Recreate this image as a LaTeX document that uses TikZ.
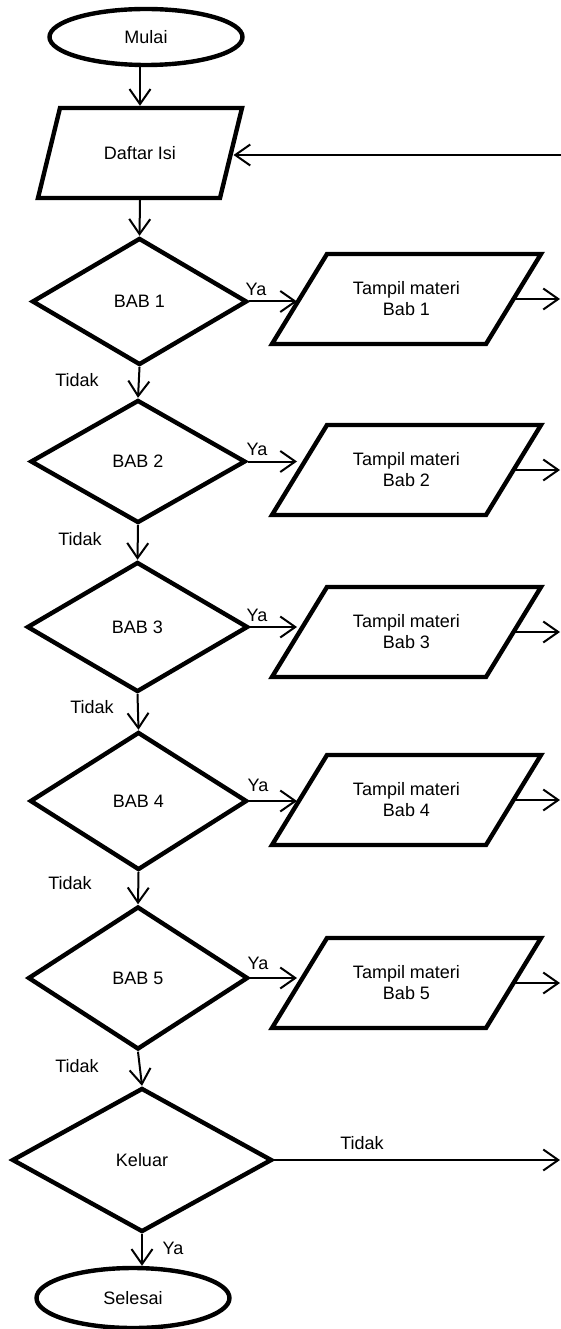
\documentclass[tikz,border=0pt]{standalone}
\usepackage{fontspec}
\setmainfont{Liberation Sans}
\usetikzlibrary{shapes.geometric,arrows.meta}
\newcommand\slantbox[2]{%
  \draw[boxline] ([xshift=-#2]#1.south west) -- ([xshift=#2]#1.north west)
    -- ([xshift=#2]#1.north east) -- ([xshift=-#2]#1.south east) -- cycle;}
\begin{document}
\begin{tikzpicture}[x=1pt,y=-1pt,
  font=\fontsize{18}{21}\selectfont,
  boxline/.style={line width=4.4pt},
  boxed/.style={draw, line width=4.4pt, inner sep=0pt, align=center},
  term/.style={boxed, ellipse, minimum width=193pt, minimum height=56pt},
  iotext/.style={inner sep=0pt, outer sep=0pt, align=center, minimum height=90pt},
  dec/.style={boxed, diamond},
  conn/.style={line width=2pt, -{Straight Barb[length=15pt,width=21pt]}},
  lbl/.style={inner sep=0pt}]
\useasboundingbox (0,0) rectangle (561,1329);

% main column
\node[term] (mulai) at (146,37) {Mulai};
\node[iotext, minimum width=182pt] (daftar) at (140,153) {Daftar Isi};
\slantbox{daftar}{11pt}
\node[dec, minimum width=215pt, minimum height=127pt] (b1) at (139.5,301.5) {BAB 1};
\node[dec, minimum width=215pt, minimum height=123pt] (b2) at (138,461.5) {BAB 2};
\node[dec, minimum width=221pt, minimum height=130pt] (b3) at (137.5,627) {BAB 3};
\node[dec, minimum width=217pt, minimum height=138pt] (b4) at (138.5,801) {BAB 4};
\node[dec, minimum width=220pt, minimum height=143pt] (b5) at (138,978) {BAB 5};
\node[dec, minimum width=260pt, minimum height=144pt] (kel) at (142,1160) {Keluar};
\node[term, minimum height=60pt] (sel) at (133,1298) {Selesai};

% material boxes
\node[iotext, minimum width=214pt] (t1) at (406.5,299) {Tampil materi\\Bab 1};
\node[iotext, minimum width=214pt] (t2) at (406.5,470) {Tampil materi\\Bab 2};
\node[iotext, minimum width=214pt] (t3) at (406.5,632) {Tampil materi\\Bab 3};
\node[iotext, minimum width=214pt] (t4) at (406.5,800) {Tampil materi\\Bab 4};
\node[iotext, minimum width=214pt] (t5) at (406.5,983) {Tampil materi\\Bab 5};
\slantbox{t1}{27.5pt}
\slantbox{t2}{27.5pt}
\slantbox{t3}{27.5pt}
\slantbox{t4}{27.5pt}
\slantbox{t5}{27.5pt}

% free ends at the right margin
\coordinate (in) at (561,155);
\coordinate (rm) at (560,0);

% vertical flow
\draw[conn] (mulai.south -| daftar.north) -- ([yshift=2.2pt]daftar.north);
\draw[conn] ([yshift=-2.2pt]daftar.south) -- (b1.north);
\draw[conn] (b1.south) -- (b2.north);
\draw[conn] (b2.south) -- (b3.north);
\draw[conn] (b3.south) -- (b4.north);
\draw[conn] (b4.south) -- (b5.north);
\draw[conn] (b5.south) -- (kel.north);
\draw[conn] (kel.south) -- (kel.south |- sel.north);

% return into Daftar Isi
\draw[conn, shorten >=2.5pt] (in) -- (in -| daftar.east);

% yes branches
\draw[conn, shorten >=2.5pt] (b1.east) -- (b1.east -| t1.west);
\draw[conn, shorten >=2.5pt] (b2.east) -- (b2.east -| t2.west);
\draw[conn, shorten >=2.5pt] (b3.east) -- (b3.east -| t3.west);
\draw[conn, shorten >=2.5pt] (b4.east) -- (b4.east -| t4.west);
\draw[conn, shorten >=2.5pt] (b5.east) -- (b5.east -| t5.west);

% exits
\draw[conn, shorten <=-2pt] (t1.east) -- (t1.east -| rm);
\draw[conn, shorten <=-2pt] (t2.east) -- (t2.east -| rm);
\draw[conn, shorten <=-2pt] (t3.east) -- (t3.east -| rm);
\draw[conn, shorten <=-2pt] (t4.east) -- (t4.east -| rm);
\draw[conn, shorten <=-2pt] (t5.east) -- (t5.east -| rm);
\draw[conn] (kel.east) -- (kel.east -| rm);

% labels
\node[lbl] (ya1) at (256,289) {Ya};
\node[lbl] (ya2) at (257,449) {Ya};
\node[lbl] (ya3) at (257,615) {Ya};
\node[lbl] (ya4) at (258,785) {Ya};
\node[lbl] (ya5) at (258,963) {Ya};
\node[lbl] (td1) at (77,380) {Tidak};
\node[lbl] (td2) at (80,539) {Tidak};
\node[lbl] (td3) at (92,707) {Tidak};
\node[lbl] (td4) at (70,883) {Tidak};
\node[lbl] (td5) at (77,1066) {Tidak};
\node[lbl] (tdk) at (362,1143) {Tidak};
\node[lbl] (yak) at (173,1248) {Ya};
\end{tikzpicture}
\end{document}
